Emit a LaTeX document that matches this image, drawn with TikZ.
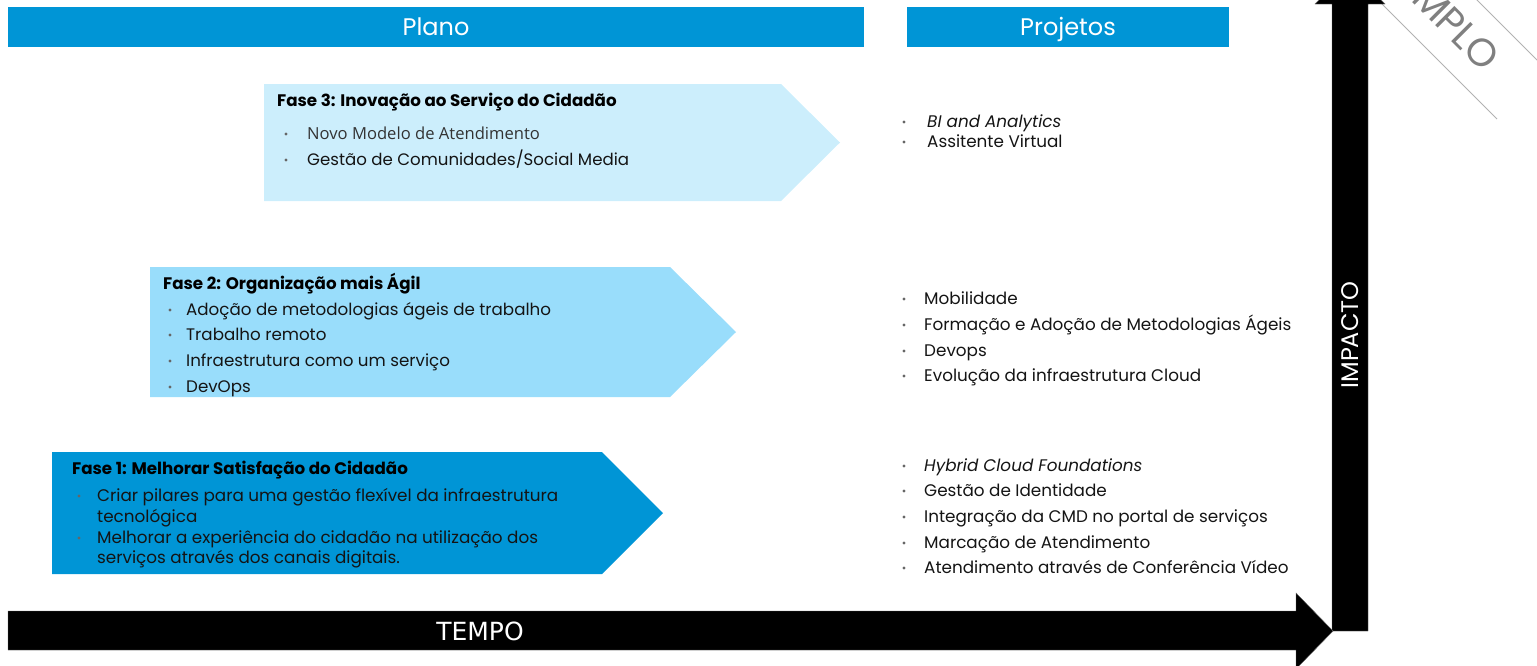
\documentclass[tikz,border=0pt]{standalone}
\usepackage{fontspec}
\setmainfont{Poppins}
\newfontfamily\tmpfont{DejaVu Sans}
\newfontfamily\lightf{Open Sans}
\definecolor{hblue}{RGB}{0,149,214}
\definecolor{ftwo}{RGB}{153,221,251}
\definecolor{fthree}{RGB}{204,238,252}
\newcommand\bitem[5]{\node[dotn] (#1d) at (#2,#4-5) {}; \node[item] (#1) at (#3,#4) {#5};}
\begin{document}
\begin{tikzpicture}[x=1pt,y=-1pt,
  hdr/.style={fill=hblue, text=white, inner sep=0, text height=17pt, text depth=0pt,
     minimum height=40pt, font=\fontsize{24}{26}\selectfont},
  item/.style={anchor=base west, inner sep=0, font=\fontsize{16.8}{18}\selectfont, text=black!92},
  ttl/.style={anchor=base west, inner sep=0, font=\fontsize{16.7}{18}\selectfont\bfseries, text=black},
  dotn/.style={circle, fill=black!60, inner sep=0, minimum size=3.4pt},
  bigarrow/.style={fill=black, draw=black!60, line width=0.4pt},
  axistxt/.style={text=white, inner sep=0},
  f1item/.style={item, font=\fontsize{16.8}{18}\selectfont},
  f2item/.style={item, font=\fontsize{16.7}{18}\selectfont},
  f3item/.style={item, font=\fontsize{16.6}{18}\selectfont}]
\useasboundingbox (0,0) rectangle (1537,665);
\clip (0,0) rectangle (1537,665);

% watermark band
\draw[black!30, line width=0.9pt] (1376,-2) -- (1497,119);
\draw[black!30, line width=0.9pt] (1475,-2) -- (1546,69);
\node[text=black!50, rotate=-45, anchor=east, inner sep=0, text height=27pt, text depth=0pt,
  font=\fontsize{39}{42}\selectfont] (wm) at (1493,64) {EXEMPLO};

% headers
\node[hdr, minimum width=856pt] (plano) at (436,27) {Plano};
\node[hdr, minimum width=322pt] (projetos) at (1068,27) {Projetos};

% phase shapes
\fill[fthree] (264,84) -- (781,84) -- (840,142.5) -- (781,201) -- (264,201) -- cycle;
\fill[ftwo] (150,267) -- (670,267) -- (736,332) -- (670,397) -- (150,397) -- cycle;
\fill[hblue] (52,452) -- (602,452) -- (663,513) -- (602,574) -- (52,574) -- cycle;

% Fase 3
\node[ttl] (f3t) at (277,106) {Fase 3: Inovação ao Serviço do Cidadão};
\node[dotn] (f3ad) at (286,134) {}; \node[f3item, text=black!80, font=\lightf\fontsize{16.6}{18}\selectfont] (f3a) at (307,139) {Novo Modelo de Atendimento};
\node[dotn] (f3bd) at (286,160) {}; \node[f3item] (f3b) at (307,165) {Gestão de Comunidades/Social Media};

% Fase 2
\node[ttl] (f2t) at (163,289) {Fase 2: Organização mais Ágil};
\node[dotn] (f2ad) at (170,310) {}; \node[f2item] (f2a) at (186,315) {Adoção de metodologias ágeis de trabalho};
\node[dotn] (f2bd) at (170,335) {}; \node[f2item] (f2b) at (186,340) {Trabalho remoto};
\node[dotn] (f2cd) at (170,361) {}; \node[f2item] (f2c) at (186,366) {Infraestrutura como um serviço};
\node[dotn] (f2dd) at (170,387) {}; \node[f2item] (f2d) at (186,392) {DevOps};

% Fase 1
\node[ttl] (f1t) at (72,474) {Fase 1: Melhorar Satisfação do Cidadão};
\node[dotn] (f1ad) at (79,496) {}; \node[f1item] (f1a) at (97,501) {Criar pilares para uma gestão flexível da infraestrutura};
\node[f1item] (f1a2) at (97,522) {tecnológica};
\node[dotn] (f1bd) at (79,538) {}; \node[f1item] (f1b) at (97,543) {Melhorar a experiência do cidadão na utilização dos};
\node[f1item] (f1b2) at (97,563) {serviços através dos canais digitais.};

% Projetos lists
\bitem{p3a}{904}{927}{127}{\itshape BI and Analytics}
\bitem{p3b}{904}{927}{147}{Assitente Virtual}

\bitem{p2a}{904}{924}{304}{Mobilidade}
\bitem{p2b}{904}{924}{330}{Formação e Adoção de Metodologias Ágeis}
\bitem{p2c}{904}{924}{356}{Devops}
\bitem{p2d}{904}{924}{381}{Evolução da infraestrutura Cloud}

\bitem{p1a}{904}{924}{471}{\itshape Hybrid Cloud Foundations}
\bitem{p1b}{904}{924}{496}{Gestão de Identidade}
\bitem{p1c}{904}{924}{522}{Integração da CMD no portal de serviços}
\bitem{p1d}{904}{924}{548}{Marcação de Atendimento}
\bitem{p1e}{904}{924}{573}{Atendimento através de Conferência Vídeo}

% axes
\path[bigarrow] (1332,631) -- (1332,4) -- (1315,4) -- (1350,-31) -- (1385,4) -- (1368,4) -- (1368,631) -- cycle;
\path[bigarrow] (8,611) -- (1296,611) -- (1296,593) -- (1333,631) -- (1296,669) -- (1296,650) -- (8,650) -- cycle;
\node[axistxt, font=\tmpfont\fontsize{25}{27}\selectfont] (tempo) at (480,631) {TEMPO};
\node[axistxt, rotate=90, font=\fontsize{24}{26}\selectfont] (impacto) at (1350,335) {IMPACTO};
\end{tikzpicture}
\end{document}
